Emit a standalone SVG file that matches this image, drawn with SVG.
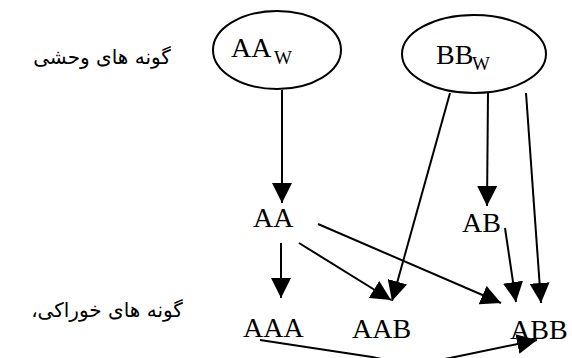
<svg xmlns="http://www.w3.org/2000/svg" width="572" height="358" viewBox="0 0 572 358">
<defs>
<style>
.lbl{font-family:"Liberation Serif","Times New Roman",serif;font-size:28px;fill:#000}
.sub{font-size:19px}
.fa{font-family:"DejaVu Sans",sans-serif;font-size:20px;fill:#000}
.node ellipse{fill:none;stroke:#000;stroke-width:2}
.edges path{fill:none;stroke:#000;stroke-width:2;marker-end:url(#ah)}
</style>
<marker id="ah" markerUnits="userSpaceOnUse" markerWidth="20" markerHeight="20" refX="20" refY="10" orient="auto" viewBox="0 0 20 20">
<path d="M0,0 L20,10 L0,20 z" fill="#000"/>
</marker>
</defs>
<rect width="572" height="358" fill="#fff"/>
<text class="fa" x="102" y="64" text-anchor="middle" direction="rtl">گونه های وحشی</text>
<text class="fa" x="107" y="317" text-anchor="middle" direction="rtl">گونه های خوراکی،</text>
<g id="AAw" class="node"><ellipse cx="277" cy="50" rx="64" ry="39"/><text class="lbl" x="231" y="57">AA<tspan class="sub" x="274" y="64">W</tspan></text></g>
<g id="BBw" class="node"><ellipse cx="474" cy="54" rx="72" ry="39"/><text class="lbl" x="436" y="64">BB<tspan class="sub" x="472" y="70">W</tspan></text></g>
<g id="AA" class="node"><text class="lbl" x="253" y="227">AA</text></g>
<g id="AB" class="node"><text class="lbl" x="462" y="232">AB</text></g>
<g id="AAA" class="node"><text class="lbl" x="243" y="337">AAA</text></g>
<g id="AAB" class="node"><text class="lbl" x="352" y="338">AAB</text></g>
<g id="ABB" class="node"><text class="lbl" x="510" y="339">ABB</text></g>
<g id="edges" class="edges">
<path d="M282,90 L282,203"/>
<path d="M281,243 L281,298"/>
<path d="M299,243 L391,300"/>
<path d="M318,224 L501,303"/>
<path d="M450,93 L392,301"/>
<path d="M488,93 L487,206"/>
<path d="M505,228 L516,302"/>
<path d="M526,93 L541,303"/>
<path d="M260,340 L372,357 Q410,366 450,358 L537,340"/>
</g>
</svg>
